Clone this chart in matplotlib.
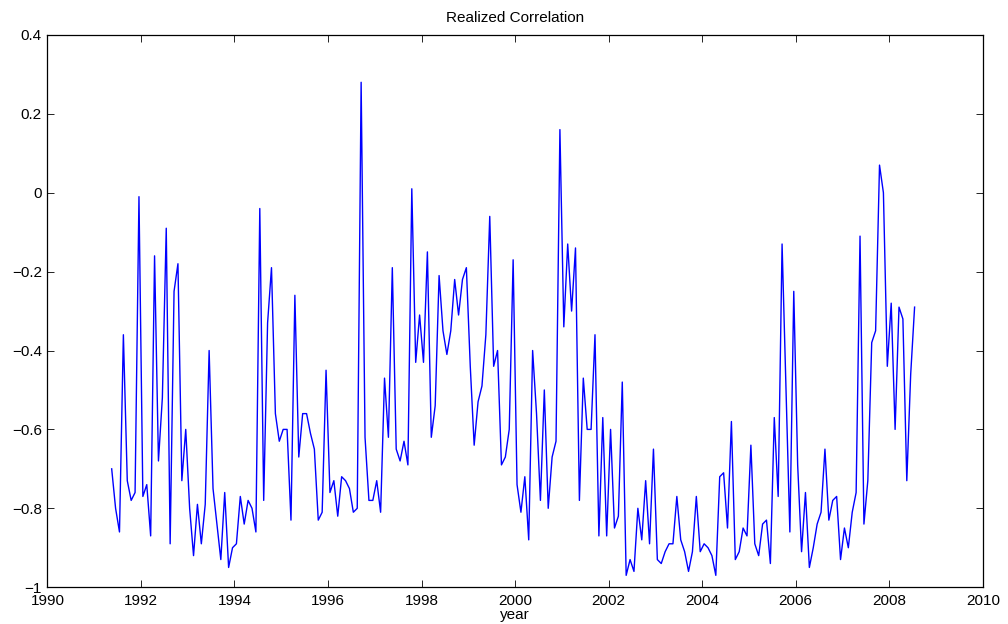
import numpy as np
import matplotlib
matplotlib.use("Agg")
import matplotlib.pyplot as plt
from matplotlib.ticker import FuncFormatter

# Monthly realized correlation, starting mid-1991
start_year = 1991 + 4.5 / 12
corr = [
    -0.70, -0.80, -0.86, -0.36, -0.73, -0.78, -0.76, -0.01, -0.77, -0.74,
    -0.87, -0.16, -0.68, -0.52, -0.09, -0.89, -0.25, -0.18, -0.73, -0.60,
    -0.80, -0.92, -0.79, -0.89, -0.79, -0.40, -0.75, -0.84, -0.93, -0.76,
    -0.95, -0.90, -0.89, -0.77, -0.84, -0.78, -0.80, -0.86, -0.04, -0.78,
    -0.33, -0.19, -0.56, -0.63, -0.60, -0.60, -0.83, -0.26, -0.67, -0.56,
    -0.56, -0.61, -0.65, -0.83, -0.81, -0.45, -0.76, -0.73, -0.82, -0.72,
    -0.73, -0.75, -0.81, -0.80, 0.28, -0.62, -0.78, -0.78, -0.73, -0.81,
    -0.47, -0.62, -0.19, -0.65, -0.68, -0.63, -0.69, 0.01, -0.43, -0.31,
    -0.43, -0.15, -0.62, -0.54, -0.21, -0.35, -0.41, -0.35, -0.22, -0.31,
    -0.22, -0.19, -0.44, -0.64, -0.53, -0.49, -0.36, -0.06, -0.44, -0.40,
    -0.69, -0.67, -0.60, -0.17, -0.74, -0.81, -0.72, -0.88, -0.40, -0.56,
    -0.78, -0.50, -0.80, -0.67, -0.63, 0.16, -0.34, -0.13, -0.30, -0.14,
    -0.78, -0.47, -0.60, -0.60, -0.36, -0.87, -0.57, -0.87, -0.60, -0.85,
    -0.82, -0.48, -0.97, -0.93, -0.96, -0.80, -0.88, -0.73, -0.89, -0.65,
    -0.93, -0.94, -0.91, -0.89, -0.89, -0.77, -0.88, -0.91, -0.96, -0.91,
    -0.77, -0.91, -0.89, -0.90, -0.92, -0.97, -0.72, -0.71, -0.85, -0.58,
    -0.93, -0.91, -0.85, -0.87, -0.64, -0.89, -0.92, -0.84, -0.83, -0.94,
    -0.57, -0.77, -0.13, -0.50, -0.86, -0.25, -0.69, -0.91, -0.76, -0.95,
    -0.90, -0.84, -0.81, -0.65, -0.83, -0.78, -0.77, -0.93, -0.85, -0.90,
    -0.81, -0.76, -0.11, -0.84, -0.73, -0.38, -0.35, 0.07, 0.00, -0.44,
    -0.28, -0.60, -0.29, -0.32, -0.73, -0.46, -0.29,
]
years = start_year + np.arange(len(corr)) / 12.0

xticks = [1990, 1992, 1994, 1996, 1998, 2000, 2002, 2004, 2006, 2008, 2010]
yticks = [-1, -0.8, -0.6, -0.4, -0.2, 0, 0.2, 0.4]

plt.rcParams['font.family'] = ['Liberation Sans', 'DejaVu Sans']
plt.rcParams['axes.unicode_minus'] = False

fig = plt.figure(figsize=(10.08, 6.24), dpi=100)
ax = fig.add_axes([0.047, 0.059, 0.928, 0.885])
ax.plot(years, corr, color='#0000ff', linewidth=1.0)

ax.set_xlim(1990, 2010)
ax.set_ylim(-1, 0.4)
ax.set_xticks(xticks)
ax.set_yticks(yticks)
ax.yaxis.set_major_formatter(FuncFormatter(lambda v, p: ('%g' % round(v, 2)).replace('-', '\u2212') if abs(v) > 1e-9 else '0'))
ax.tick_params(direction='in', top=True, right=True, length=5, width=0.6, labelsize=11)
ax.tick_params(axis='x', pad=5)
ax.tick_params(axis='y', pad=4)
for s in ax.spines.values():
    s.set_linewidth(0.9)
ax.set_title('Realized Correlation', fontsize=11, pad=9)
ax.set_xlabel('year', fontsize=11, labelpad=0)

fig.savefig('out.png', dpi=100)
